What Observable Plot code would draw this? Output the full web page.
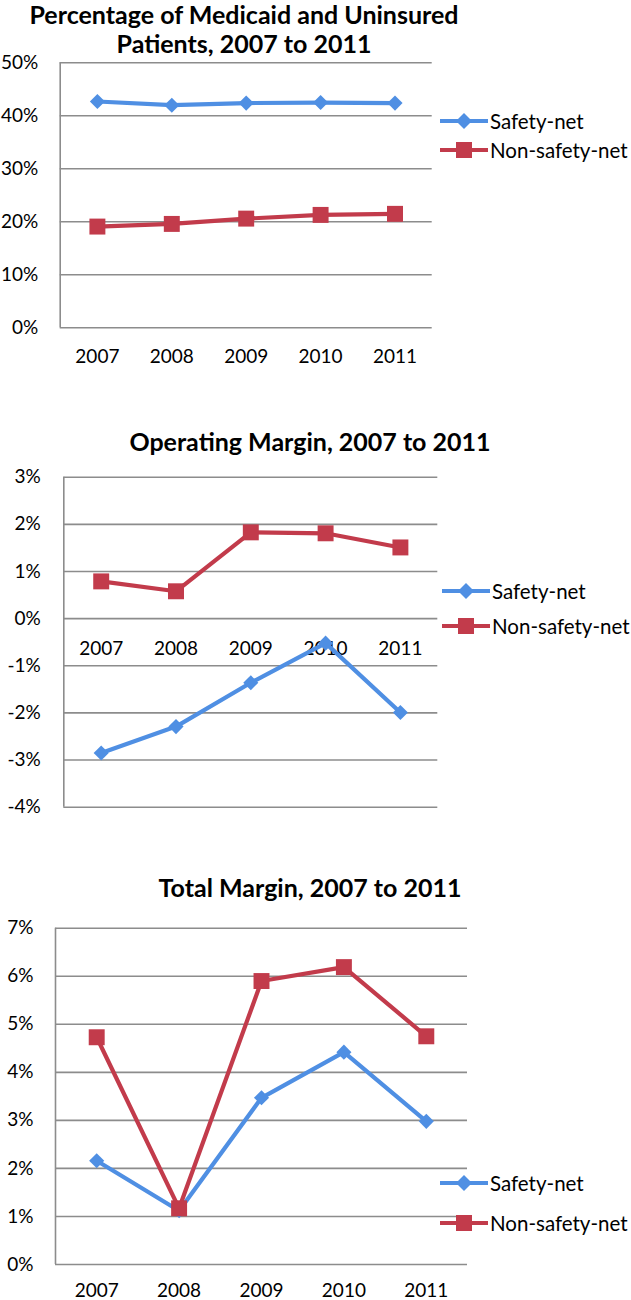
<!DOCTYPE html>
<html>
<head>
<meta charset="utf-8">
<script src="https://cdn.jsdelivr.net/npm/d3@7"></script>
<script src="https://cdn.jsdelivr.net/npm/@observablehq/plot@0.6"></script>
<style>
  html, body { margin: 0; padding: 0; background: #fff; }
  #root { position: relative; width: 631px; height: 1300px; overflow: hidden; font-family: Lato, "DejaVu Sans", sans-serif; }
  .title { position: absolute; text-align: center; font-weight: bold; font-size: 25px; line-height: 31.6px; color: #000; white-space: nowrap; }
  .legend { position: absolute; font-size: 20.5px; color: #000; }
  .legend .item { position: absolute; left: 0; display: flex; align-items: center; white-space: nowrap; height: 24px; }
  .chart { position: absolute; left: 0; }
</style>
</head>
<body>
<div id="root"></div>
<script>
// ---- data ----
const years = [2007, 2008, 2009, 2010, 2011];
const seriesNames = ["Safety-net", "Non-safety-net"];
const seriesColors = ["#4f8fe3", "#c23b4b"];
const seriesSymbols = ["diamond2", "square"];

const medicaidSafety = [42.7, 42.0, 42.4, 42.5, 42.4];
const medicaidNon    = [19.1, 19.6, 20.6, 21.3, 21.5];
const medicaidTicks  = [0, 10, 20, 30, 40, 50];

const operatingSafety = [-2.85, -2.29, -1.36, -0.52, -1.99];
const operatingNon    = [0.79, 0.58, 1.83, 1.81, 1.51];
const operatingTicks  = [-4, -3, -2, -1, 0, 1, 2, 3];

const totalSafety = [2.16, 1.12, 3.47, 4.42, 2.98];
const totalNon    = [4.73, 1.17, 5.90, 6.19, 4.75];
const totalTicks  = [0, 1, 2, 3, 4, 5, 6, 7];

const titles = [
  ["Percentage of Medicaid and Uninsured", "Patients, 2007 to 2011"],
  ["Operating Margin, 2007 to 2011"],
  ["Total Margin, 2007 to 2011"]
];

// ---- layout ----
const root = document.getElementById("root");
const gridColor = "#8c8c8c";

function panel(cfg) {
  const safeRows = years.map((y, i) => ({year: y, value: cfg.safety[i]}));
  const nonRows = years.map((y, i) => ({year: y, value: cfg.non[i]}));
  const xDomain = [years[0] - 0.5, years[years.length - 1] + 0.5];
  const yDomain = [cfg.ticks[0], cfg.ticks[cfg.ticks.length - 1]];
  const chart = Plot.plot({
    width: cfg.width,
    height: cfg.height,
    marginLeft: cfg.ml, marginRight: cfg.mr, marginTop: cfg.mt, marginBottom: cfg.mb,
    style: {fontFamily: "Lato, sans-serif", fontSize: "19px", color: "#000", background: "transparent", overflow: "visible"},
    x: {type: "linear", domain: xDomain, axis: null},
    y: {domain: yDomain, axis: null},
    marks: [
      Plot.ruleY(cfg.ticks, {stroke: gridColor, strokeWidth: 1.6}),
      Plot.ruleX([xDomain[0]], {stroke: gridColor, strokeWidth: 1.6}),
      Plot.axisY({ticks: cfg.ticks, tickSize: 0, tickPadding: cfg.tp, tickFormat: d => d + "%", fill: "#000", label: null}),
      Plot.text(years, {x: d => d, y: () => 0, text: d => String(d), dy: cfg.xdy, fill: "#000"}),
      Plot.line(safeRows, {x: "year", y: "value", stroke: seriesColors[0], strokeWidth: 4.2}),
      Plot.line(nonRows, {x: "year", y: "value", stroke: seriesColors[1], strokeWidth: 4.2}),
      Plot.dot(safeRows, {x: "year", y: "value", fill: seriesColors[0], symbol: seriesSymbols[0], r: 6.8, stroke: "none"}),
      Plot.dot(nonRows, {x: "year", y: "value", fill: seriesColors[1], symbol: seriesSymbols[1], r: 9, stroke: "none"})
    ]
  });
  const wrap = document.createElement("div");
  wrap.className = "chart";
  wrap.style.top = cfg.top + "px";
  wrap.appendChild(chart);
  root.appendChild(wrap);

  // title
  const t = document.createElement("div");
  t.className = "title";
  t.style.left = (cfg.titleCx - 300) + "px";
  t.style.width = "600px";
  t.style.top = cfg.titleTop + "px";
  if (cfg.titleLH) t.style.lineHeight = cfg.titleLH + "px";
  t.innerHTML = cfg.title.join("<br>");
  root.appendChild(t);

  // legend
  const lg = document.createElement("div");
  lg.className = "legend";
  lg.style.left = cfg.legX + "px";
  lg.style.top = "0px";
  seriesNames.forEach((name, i) => {
    const it = document.createElement("div");
    it.className = "item";
    it.style.top = (cfg.legY[i] - 12) + "px";
    const sym = seriesSymbols[i] === "square"
      ? `<rect x="16" y="2" width="16" height="16" fill="${seriesColors[i]}"/>`
      : `<path d="M24 2 L32 10 L24 18 L16 10 Z" fill="${seriesColors[i]}"/>`;
    it.innerHTML = `<svg width="48" height="20" style="margin-right:2px;overflow:visible"><line x1="0" x2="48" y1="10" y2="10" stroke="${seriesColors[i]}" stroke-width="4.2"/>${sym}</svg><span>${name}</span>`;
    lg.appendChild(it);
  });
  root.appendChild(lg);
}

panel({safety: medicaidSafety, non: medicaidNon, ticks: medicaidTicks, title: titles[0],
  top: 50, width: 440, height: 330, ml: 59.7, mr: 8.3, mt: 12.3, mb: 52.7, tp: 22, xdy: 29,
  titleCx: 244, titleTop: 0, titleLH: 29, legX: 440, legY: [121, 150]});

panel({safety: operatingSafety, non: operatingNon, ticks: operatingTicks, title: titles[1],
  top: 460, width: 445, height: 360, ml: 63.3, mr: 7.7, mt: 16.7, mb: 13.3, tp: 23, xdy: 30,
  titleCx: 310, titleTop: 426.2, legX: 442, legY: [591, 626]});

panel({safety: totalSafety, non: totalNon, ticks: totalTicks, title: titles[2],
  top: 910, width: 475, height: 390, ml: 55, mr: 8, mt: 17.7, mb: 36, tp: 22, xdy: 26,
  titleCx: 310, titleTop: 872.2, legX: 440, legY: [1183, 1223]});
</script>
</body>
</html>
